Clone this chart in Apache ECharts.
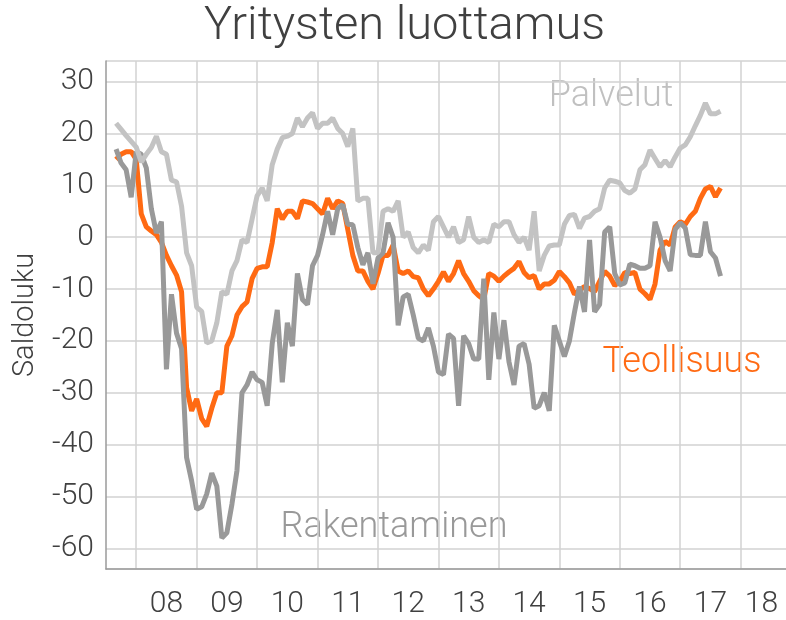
<!DOCTYPE html>
<html>
<head>
<meta charset="utf-8">
<title>Yritysten luottamus</title>
<script src="https://cdn.jsdelivr.net/npm/echarts@6/dist/echarts.min.js"></script>
<style>
  html, body { margin: 0; padding: 0; background: #fff; }
  #chart { width: 786px; height: 620px; }
</style>
</head>
<body>
<div id="chart"></div>
<script>
// x-akseli: kuukaudet 2007-07 ... 2018-10
var axisStart = [2007, 7];
var monthCount = 136;
var dataStart = '2007-09'; // sarjojen ensimmäinen kuukausi

var yearLabels = ['08', '09', '10', '11', '12', '13', '14', '15', '16', '17', '18'];
var yMin = -64, yMax = 34;

// saldoluvut kuukausittain 2007-09 ... 2017-09
var palvelut = [
  22, 20.8, 19.6, 18.5, 17.4, 14.5, 16, 17.3, 19.5, 16.5,
  16, 11, 10.7, 6, -3, -5.5, -13.5, -14.3, -20.4, -20,
  -16.5, -10.5, -11, -6.5, -4.5, -0.5, -1, 3.5, 8, 9.5,
  7, 14, 17, 19.2, 19.5, 20, 23, 21.3, 23, 24,
  21, 22, 22, 23, 21, 20, 17.5, 21, 7, 7.5,
  7.5, -3, -3, 5, 5.5, 5, 7, 0, 1, -2,
  -3, -1.5, -2.5, 3, 4, 2, 0, 2, -1, -0.5,
  4, 0, -1, -0.5, -1, 2.5, 2, 3, 3, 0.5,
  -1, 0, -2.5, 5, -6.5, -3.5, -1.7, -1.5, -1.5, 2.5,
  4.2, 4.4, 1.7, 3.7, 4, 5, 5.5, 9.5, 11, 10.8,
  10.5, 9, 8.5, 9.3, 13, 14, 16.8, 15.2, 13.6, 14.8,
  13.6, 15.5, 17.2, 17.8, 19.4, 21.5, 23.5, 25.9, 23.8, 23.8,
  24.3
];
var teollisuus = [
  15, 16, 16.5, 16.5, 15, 4.5, 2, 1.2, 0.5, -1,
  -3.5, -5.5, -7.3, -10.5, -29, -33.5, -31.2, -35, -36.5, -33,
  -30, -30, -21, -19, -15, -13.4, -12.5, -8, -6, -5.7,
  -5.7, -1, 5.5, 3.5, 5, 5, 3.6, 7, 6.8, 6.5,
  5.5, 4.5, 7.5, 5.5, 7, 6.5, 1.5, -3.5, -6.5, -6.5,
  -8.5, -10, -7, -3.5, -3.5, -1.5, -6.5, -7, -6.5, -7.6,
  -7.8, -10, -11.3, -10, -8.5, -6.7, -8.5, -7, -4.5, -7,
  -8.5, -10.3, -11.3, -12, -7, -7.5, -8.5, -7.5, -6.7, -6,
  -4.7, -6.8, -7.8, -7.4, -10, -9, -9, -8.3, -6.6, -7.6,
  -8.8, -11, -10.2, -9.5, -9.9, -10.5, -8.5, -6.6, -7.5, -9.3,
  -8.5, -6.8, -7, -6.8, -10, -10.9, -12, -9, -2.5, -0.8,
  -1.5, 2, 3, 2.5, 4, 5, 7.5, 9.3, 9.8, 7.8,
  9.5
];
var rakentaminen = [
  17, 14.3, 13, 7.7, 16.5, 16, 13.4, 5.5, 0.8, 3,
  -25.5, -11, -18.5, -21.5, -42.5, -47, -52.5, -52, -49.5, -45.5,
  -48, -58, -57, -51.5, -45, -30, -28.5, -26, -27.5, -28,
  -32.5, -20.5, -14, -28, -16.5, -21, -7, -12, -13, -5.5,
  -3.5, 0.5, 5, 0.5, 5.5, 6.3, 2.5, 2.4, -2, -5.3,
  -3, -9, -4, -3, 2.8, 0, -17, -11.5, -11, -15,
  -19.5, -20, -17.5, -21, -26, -26.5, -18.7, -19.5, -32.5, -19,
  -20.5, -23.5, -23.5, -8, -27.5, -14.5, -23.5, -16, -24, -28.5,
  -21, -20.5, -24.5, -33, -32.5, -30, -33.5, -17, -20, -23,
  -20, -14.5, -9.5, -14.4, -0.5, -14.4, -13, 1, 2, -7,
  -9.2, -8.8, -5.2, -5.5, -6, -6, -5.5, 3, 0, -4.5,
  -6.5, 1.5, 2.8, 1.8, -3.4, -3.5, -3.5, 3, -2.8, -4,
  -7.5
];

var months = [];
for (var i = 0; i < monthCount; i++) {
  var m = axisStart[1] - 1 + i;
  var yy = axisStart[0] + Math.floor(m / 12);
  months.push(yy + '-' + String(m % 12 + 1).padStart(2, '0'));
}
var offset = months.indexOf(dataStart);

// täytetään akselin mittaiseksi
function pad(values) {
  var out = [];
  for (var i = 0; i < monthCount; i++) {
    var j = i - offset;
    out.push(j >= 0 && j < values.length ? values[j] : null);
  }
  return out;
}

var textColor = '#404040';
var font = 'Roboto';
var weight = 300;

var chart = echarts.init(document.getElementById('chart'), null, { renderer: 'canvas' });
var option = {
  animation: false,
  backgroundColor: '#fff',
  textStyle: { fontFamily: font, fontWeight: weight },
  title: {
    text: 'Yritysten luottamus',
    left: 199,
    top: -1,
    textStyle: { fontFamily: font, fontSize: 47, fontWeight: weight, color: textColor }
  },
  grid: { left: 106, top: 61, right: 0, bottom: 51, containLabel: false, outerBoundsMode: 'none' },
  xAxis: {
    type: 'category',
    boundaryGap: false,
    data: months,
    axisLine: { onZero: false, lineStyle: { color: '#9a9a9a', width: 1.5 } },
    axisTick: { show: false },
    splitLine: {
      show: true,
      interval: function (index) { return index % 12 === 6; },
      lineStyle: { color: '#d2d2d2', width: 1.5 }
    },
    axisLabel: {
      interval: function (index) { return index > 0 && index % 12 === 0; },
      margin: 20,
      fontSize: 30,
      fontWeight: weight,
      color: textColor,
      formatter: function (value, index) {
        var lab = yearLabels[index / 12 - 1];
        return index === monthCount - 4 ? '{r|' + lab + '}' : lab;
      },
      rich: { r: { fontSize: 30, fontWeight: weight, color: textColor, padding: [0, 19, 0, 0] } }
    }
  },
  yAxis: {
    type: 'value',
    min: yMin,
    max: yMax,
    splitNumber: 10,
    name: 'Saldoluku',
    nameLocation: 'middle',
    nameGap: 66,
    nameRotate: 90,
    nameTextStyle: { fontSize: 29, fontWeight: weight, color: textColor },
    axisLine: { show: true, lineStyle: { color: '#9a9a9a', width: 1.5 } },
    axisTick: { show: false },
    axisLabel: {
      margin: 12,
      fontSize: 30,
      fontWeight: weight,
      color: textColor,
      showMinLabel: false,
      showMaxLabel: false,
      formatter: function (v) { return v % 10 === 0 ? String(v) : ''; }
    },
    splitLine: { show: true, lineStyle: { color: '#d2d2d2', width: 1.5 } }
  },
  series: [
    {
      name: 'Teollisuus', type: 'line', data: pad(teollisuus),
      symbol: 'none', lineStyle: { width: 5, color: '#ff6a13' }, itemStyle: { color: '#ff6a13' }
    },
    {
      name: 'Rakentaminen', type: 'line', data: pad(rakentaminen),
      symbol: 'none', lineStyle: { width: 5, color: '#999999' }, itemStyle: { color: '#999999' }
    },
    {
      name: 'Palvelut', type: 'line', data: pad(palvelut),
      symbol: 'none', lineStyle: { width: 5, color: '#c3c3c3' }, itemStyle: { color: '#c3c3c3' }
    }
  ],
  graphic: [
    { type: 'text', x: 611, y: 97, style: { text: 'Palvelut', fill: '#c0c0c0', fontSize: 36, fontWeight: weight, fontFamily: font, align: 'center', verticalAlign: 'middle' } },
    { type: 'text', x: 682, y: 363, style: { text: 'Teollisuus', fill: '#ff6a13', fontSize: 36, fontWeight: weight, fontFamily: font, align: 'center', verticalAlign: 'middle' } },
    { type: 'text', x: 394, y: 528, style: { text: 'Rakentaminen', fill: '#999999', fontSize: 36, fontWeight: weight, fontFamily: font, align: 'center', verticalAlign: 'middle' } }
  ]
};
chart.setOption(option);
</script>
</body>
</html>
